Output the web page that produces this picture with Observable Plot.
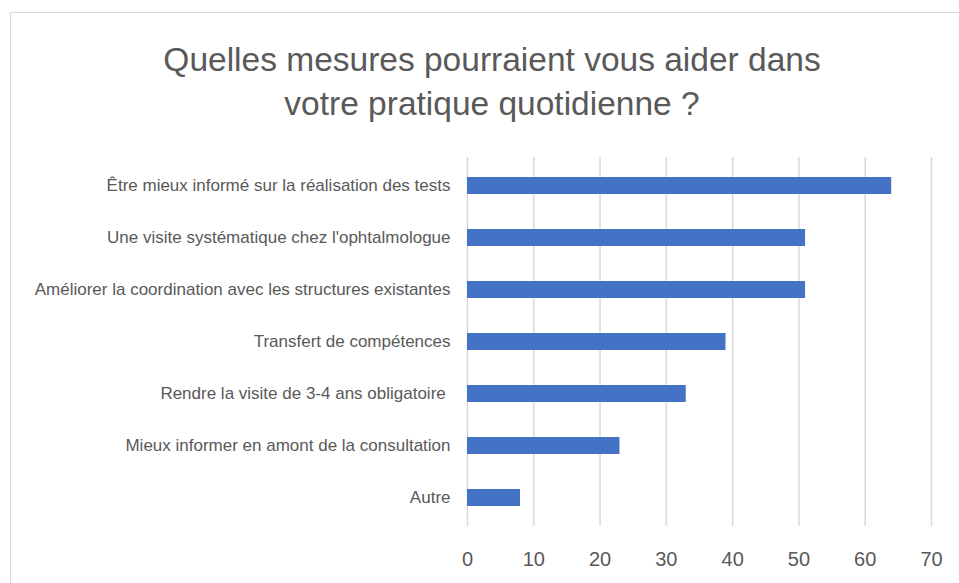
<!DOCTYPE html>
<html>
<head>
<meta charset="utf-8">
<script src="https://cdn.jsdelivr.net/npm/d3@7"></script>
<script src="https://cdn.jsdelivr.net/npm/@observablehq/plot@0.6"></script>
<style>
  html, body { margin: 0; padding: 0; background: #fff; }
  #wrap { position: relative; width: 959px; height: 583px; overflow: hidden; }
  #frame { position: absolute; left: 10px; top: 12px; width: 1000px; height: 700px;
           border-left: 1.5px solid #d9d9d9; border-top: 1.5px solid #d9d9d9; }
  #title { position: absolute; left: 0; top: 38px; width: 984px; text-align: center;
           font-family: "Liberation Sans", sans-serif; font-size: 33.5px;
           line-height: 44px; color: #595959; }
  #chart { position: absolute; left: 0; top: 0; }
</style>
</head>
<body>
<div id="wrap">
  <div id="frame"></div>
  <div id="title">Quelles mesures pourraient vous aider dans<br>votre pratique quotidienne ?</div>
  <div id="chart"></div>
</div>
<script>
const categories = [
  "Être mieux informé sur la réalisation des tests",
  "Une visite systématique chez l'ophtalmologue",
  "Améliorer la coordination avec les structures existantes",
  "Transfert de compétences",
  "Rendre la visite de 3-4 ans obligatoire\u00a0",
  "Mieux informer en amont de la consultation",
  "Autre"
];
const values = [64, 51, 51, 39, 33, 23, 8];
const xTicks = [0, 10, 20, 30, 40, 50, 60, 70];

const data = categories.map((c, i) => ({category: c, value: values[i]}));

const plot = Plot.plot({
  width: 959,
  height: 583,
  marginTop: 157,
  marginBottom: 57,
  marginLeft: 467,
  marginRight: 28,
  style: {fontFamily: "'Liberation Sans', sans-serif", color: "#595959", background: "transparent"},
  x: {domain: [0, 70], ticks: xTicks, label: null},
  y: {domain: categories, label: null, paddingInner: 0.67, paddingOuter: 0.335},
  marks: [
    Plot.gridX(xTicks, {stroke: "#d9d9d9", strokeOpacity: 1, strokeWidth: 1.5}),
    Plot.barX(data, {x: "value", y: "category", fill: "#4472C4"}),
    Plot.axisX({ticks: xTicks, tickSize: 0, tickPadding: 25, fontSize: 20, label: null}),
    Plot.axisY({tickSize: 0, tickPadding: 17, fontSize: 17, label: null})
  ]
});
document.getElementById("chart").appendChild(plot);
</script>
</body>
</html>
